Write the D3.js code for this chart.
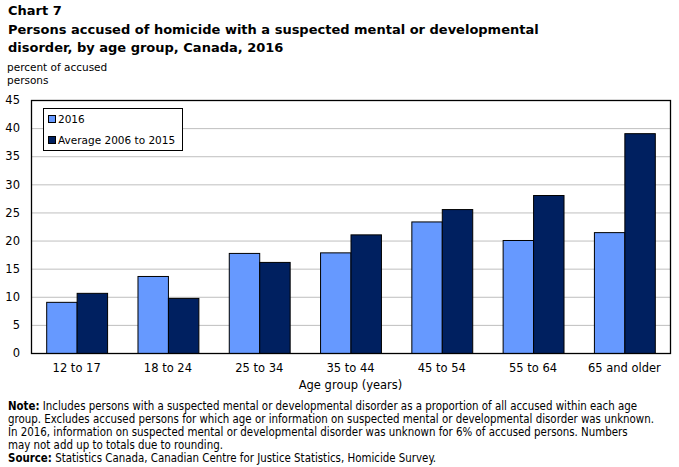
<!DOCTYPE html>
<html><head><meta charset="utf-8">
<script src="https://cdn.jsdelivr.net/npm/d3@7"></script>
<style>body{margin:0;background:#fff}svg{display:block}</style>
</head><body><svg id="c" width="679" height="467"></svg>
<script>
const categories = ["12 to 17","18 to 24","25 to 34","35 to 44","45 to 54","55 to 64","65 and older"];
const series2016 = [9.1, 13.7, 17.8, 17.9, 23.4, 20.1, 21.5];
const seriesAvg = [10.7, 9.8, 16.2, 21.1, 25.6, 28.1, 39.1];
const seriesNames = ["2016", "Average 2006 to 2015"];
const colors = ["#6699ff", "#002060"];
const yTicks = [0,5,10,15,20,25,30,35,40,45];
const titleLines = ["Chart 7","Persons accused of homicide with a suspected mental or developmental","disorder, by age group, Canada, 2016"];
const yLabelLines = ["percent of accused","persons"];
const xTitle = "Age group (years)";
const noteLines = [
 ["Note:", " Includes persons with a suspected mental or developmental disorder as a proportion of all accused within each age"],
 ["", "group. Excludes accused persons for which age or information on suspected mental or developmental disorder was unknown."],
 ["", "In 2016, information on suspected mental or developmental disorder was unknown for 6% of accused persons. Numbers"],
 ["", "may not add up to totals due to rounding."],
 ["Source:", " Statistics Canada, Canadian Centre for Justice Statistics, Homicide Survey."]
];

const svg = d3.select("#c");
const m = {l:31, r:9, t:100, b:114};
const W = 679, H = 467;
const x = d3.scaleBand().domain(categories).range([m.l, W - m.r]).paddingInner(0.333).paddingOuter(0.1665);
const y = d3.scaleLinear().domain([0,45]).range([H - m.b, m.t]);
const font = "'DejaVu Sans', Verdana, sans-serif";

// title
svg.append("g").selectAll("text").data(titleLines).join("text")
  .attr("x", 8).attr("y", (d,i)=>15 + i*18.5)
  .attr("font-family", font).attr("font-weight","bold").attr("font-size", 13)
  .attr("fill","#000").text(d=>d);
svg.append("g").selectAll("text").data(yLabelLines).join("text")
  .attr("x", 7).attr("y", (d,i)=>71 + i*13)
  .attr("font-family", font).attr("font-size", 10.5).attr("fill","#000").text(d=>d);

// gridlines
svg.append("g").selectAll("line").data(yTicks.filter(t=>t>0 && t<45)).join("line")
  .attr("x1", m.l).attr("x2", W - m.r).attr("y1", d=>y(d)+0.5).attr("y2", d=>y(d)+0.5)
  .attr("stroke", "#bfbfbf").attr("stroke-width", 1);

// y axis
const yAxis = d3.axisLeft(y).tickValues(yTicks).tickSize(0).tickPadding(11);
const gy = svg.append("g").attr("transform", `translate(${m.l},0)`).call(yAxis);
gy.select(".domain").remove();
gy.selectAll("text").attr("font-family", font).attr("font-size", 11.5).attr("fill","#000");

// bars
const sub = d3.scaleBand().domain([0,1]).range([0, x.bandwidth()]);
const data = categories.map((c,i)=>({c, v:[series2016[i], seriesAvg[i]]}));
const groups = svg.append("g").selectAll("g").data(data).join("g")
  .attr("transform", d=>`translate(${x(d.c)},0)`);
groups.selectAll("rect").data(d=>d.v.map((v,k)=>({v,k}))).join("rect")
  .attr("x", d=>sub(d.k)+0.5).attr("width", sub.bandwidth())
  .attr("y", d=>y(d.v)+0.5).attr("height", d=>y(0)-y(d.v))
  .attr("fill", d=>colors[d.k]).attr("stroke","#000").attr("stroke-width",1);

// plot frame
svg.append("rect").attr("x", m.l+0.5).attr("y", m.t+0.5)
  .attr("width", W - m.r - m.l).attr("height", H - m.b - m.t)
  .attr("fill","none").attr("stroke","#000").attr("stroke-width",1.3);

// x axis labels
const xAxis = d3.axisBottom(x).tickSize(0).tickPadding(11);
const gx = svg.append("g").attr("transform", `translate(0,${H-m.b})`).call(xAxis);
gx.select(".domain").remove();
gx.selectAll("text").attr("font-family", font).attr("font-size", 11.5).attr("fill","#000");
svg.append("text").attr("x", (m.l + W - m.r)/2).attr("y", 389).attr("text-anchor","middle")
  .attr("font-family", font).attr("font-size", 11.5).text(xTitle);

// legend
const lg = svg.append("g");
lg.append("rect").attr("x", 43.5).attr("y", 108.5).attr("width", 139).attr("height", 42)
  .attr("fill","#fff").attr("stroke","#000").attr("stroke-width",1);
seriesNames.forEach((n,i)=>{
  lg.append("rect").attr("x", 48.5).attr("y", 115.5 + i*21).attr("width", 7).attr("height", 7)
    .attr("fill", colors[i]).attr("stroke","#000").attr("stroke-width",1);
  lg.append("text").attr("x", 58).attr("y", 123 + i*21).attr("font-family", font)
    .attr("font-size", 10.5).text(n);
});

// notes
const nt = svg.append("g").selectAll("text").data(noteLines).join("text")
  .attr("x", 8).attr("y", (d,i)=>410 + i*13)
  .attr("font-family", "'DejaVu Sans Condensed', 'DejaVu Sans', sans-serif").attr("font-size", 11.4).attr("fill","#000");
nt.append("tspan").attr("font-weight","bold").text(d=>d[0]);
nt.append("tspan").text(d=>d[1]);
</script></body></html>
